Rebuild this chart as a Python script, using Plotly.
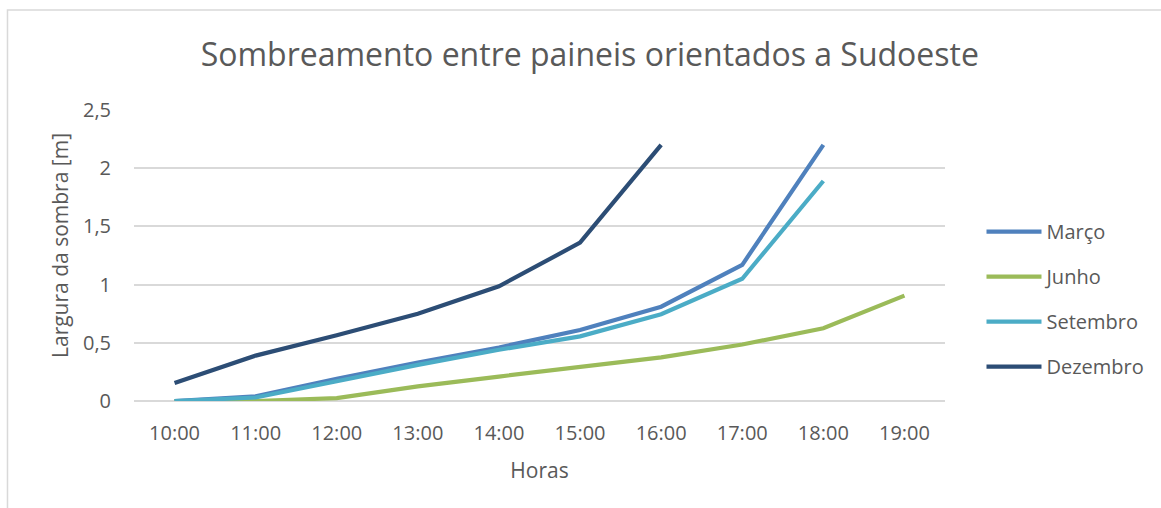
import plotly.graph_objects as go

horas = ["10:00", "11:00", "12:00", "13:00", "14:00", "15:00", "16:00", "17:00", "18:00", "19:00"]

marco = [0.0, 0.04, 0.19, 0.33, 0.46, 0.61, 0.81, 1.17, 2.2, None]
junho = [0.0, 0.0, 0.025, 0.125, 0.21, 0.295, 0.375, 0.485, 0.625, 0.905]
setembro = [0.0, 0.03, 0.17, 0.31, 0.44, 0.555, 0.745, 1.05, 1.89, None]
dezembro = [0.155, 0.39, 0.565, 0.75, 0.985, 1.36, 2.2, None, None, None]

series = [
    ("Março", marco, "#4F81BD"),
    ("Junho", junho, "#9BBB59"),
    ("Setembro", setembro, "#4BACC6"),
    ("Dezembro", dezembro, "#2C4D75"),
]

FONT = "Open Sans"
GREY = "#595959"

fig = go.Figure()
for name, vals, color in series:
    fig.add_trace(go.Scatter(
        x=horas, y=vals, name=name, mode="lines",
        line=dict(color=color, width=4.2),
        connectgaps=False, legendgroup=name,
    ))

fig.update_layout(
    width=1161, height=508,
    margin=dict(l=134, r=213, t=110, b=107),
    paper_bgcolor="white", plot_bgcolor="white",
    font=dict(family=FONT, color=GREY, size=20),
    separators=",.",
    title=dict(
        text="Sombreamento entre paineis orientados a Sudoeste",
        x=0.508, xanchor="center", y=0.893, yanchor="middle",
        font=dict(family=FONT, size=32, color=GREY),
    ),
    xaxis=dict(
        type="category", range=[-0.5, 9.5],
        showgrid=False, zeroline=False, showline=False,
        ticks="", ticklabelstandoff=18,
        title=dict(text="Horas", font=dict(size=21, color=GREY), standoff=18),
        tickfont=dict(size=20, color=GREY),
    ),
    yaxis=dict(
        range=[0, 2.5], dtick=0.5,
        showgrid=True, gridcolor="#D9D9D9", gridwidth=1.5,
        zeroline=True, zerolinecolor="#D9D9D9", zerolinewidth=1.5,
        showline=False, ticks="", ticklabelstandoff=22,
        tickformat=".1~f",
        tickfont=dict(size=20, color=GREY),
    ),
    legend=dict(
        x=1.045, xanchor="left", y=0.35, yanchor="middle",
        font=dict(size=20, color=GREY),
        tracegroupgap=16, itemwidth=55,
        bgcolor="rgba(0,0,0,0)",
    ),
    showlegend=True,
)

# y-axis title, placed as a rotated annotation
fig.add_annotation(
    text="Largura da sombra [m]", xref="paper", yref="paper",
    x=-0.092, y=0.534, xanchor="center", yanchor="middle",
    textangle=-90, showarrow=False,
    font=dict(family=FONT, size=21, color=GREY),
)

# chart-area frame
fig.add_shape(
    type="rect", xref="paper", yref="paper",
    x0=-0.156, x1=1.3, y0=-0.4, y1=1.344,
    line=dict(color="#D9D9D9", width=1.5), fillcolor="rgba(0,0,0,0)",
    layer="below",
)

fig.write_html("out.html")
